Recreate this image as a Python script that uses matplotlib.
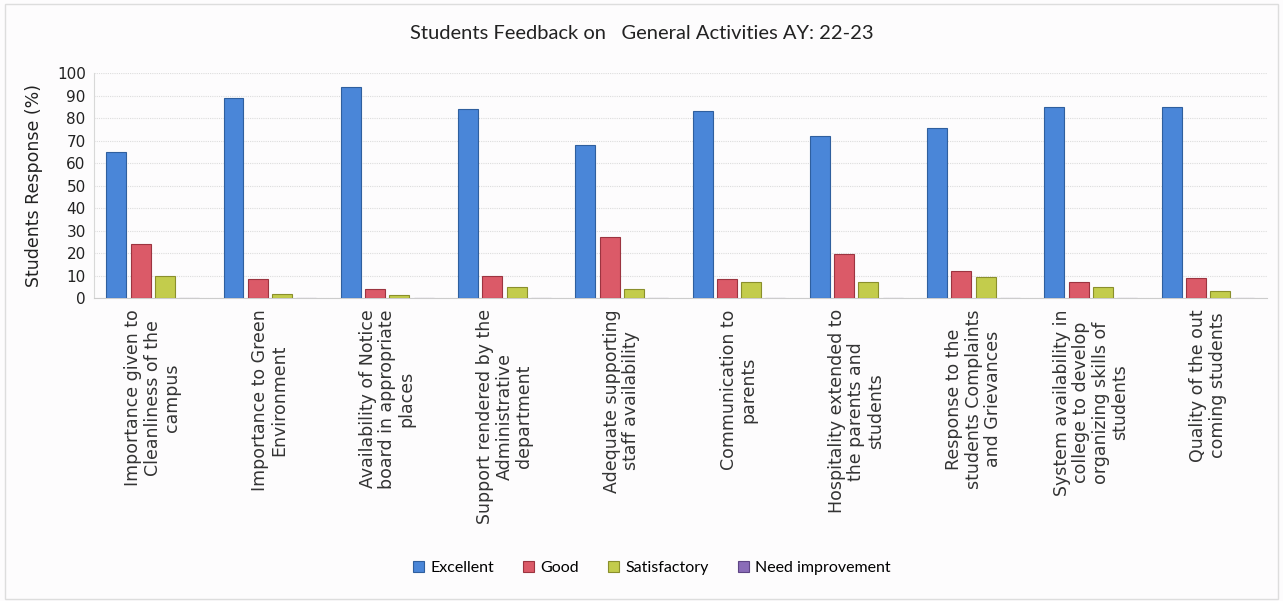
import matplotlib
matplotlib.use("Agg")
import matplotlib.pyplot as plt
import numpy as np

categories = [
    "Importance given to\nCleanliness of the\ncampus",
    "Importance to Green\nEnvironment",
    "Availability of Notice\nboard in appropriate\nplaces",
    "Support rendered by the\nAdministrative\ndepartment",
    "Adequate supporting\nstaff availability",
    "Communication to\nparents",
    "Hospitality extended to\nthe parents and\nstudents",
    "Response to the\nstudents Complaints\nand Grievances",
    "System availability in\ncollege to develop\norganizing skills of\nstudents",
    "Quality of the out\ncoming students",
]
excellent = [65, 89, 94, 84, 68, 83, 72, 75.5, 85, 85]
good = [24, 8.5, 4, 10, 27, 8.5, 19.5, 12, 7, 9]
satisfactory = [10, 2, 1.5, 5, 4, 7, 7, 9.5, 5, 3]
need_improvement = [0, 0, 0, 0, 0, 0, 0, 0, 0, 0]

series = [
    ("Excellent", excellent, "#4a86d8", "#2f5f9e"),
    ("Good", good, "#db5a68", "#9c3440"),
    ("Satisfactory", satisfactory, "#c3cc4c", "#8a8f2c"),
    ("Need improvement", need_improvement, "#8a6cb8", "#5e4585"),
]

fig = plt.figure(figsize=(12.83, 6.01), dpi=100)
fig.patch.set_facecolor("#fdfcfd")
ax = fig.add_axes([0.0733, 0.504, 0.914, 0.3745])
ax.set_facecolor("#fdfcfd")

x = np.arange(len(categories))
step = 0.207
width = 0.17
for k, (name, vals, col, edge) in enumerate(series):
    ax.bar(x + (k - 1.5) * step, vals, width, color=col, edgecolor=edge,
           linewidth=0.8, label=name, zorder=3)

ax.set_xlim(-0.5, len(categories) - 0.5)
ax.set_ylim(0, 100)
ax.set_yticks(range(0, 101, 10))
ax.tick_params(axis="y", length=0, labelsize=11, pad=6, labelcolor="#222222")
ax.tick_params(axis="x", length=0, pad=8)
ax.set_xticks(x)
ax.set_xticklabels(categories, rotation=90, ha="center", va="top",
                   fontsize=12.5, color="#333333", linespacing=1.1)
ax.yaxis.grid(True, color="#dddddd", linestyle=(0, (1, 1)), linewidth=0.8, zorder=0)
for s in ["top", "right"]:
    ax.spines[s].set_visible(False)
ax.spines["left"].set_color("#d8d8d8")
ax.spines["bottom"].set_color("#cccccc")

ax.set_ylabel("Students Response (%)", fontsize=12.5, color="#222222", labelpad=10)

fig.text(0.5, 0.945, "Students Feedback on   General Activities AY: 22-23",
         ha="center", va="center", fontsize=14.5, family="Lato", color="#222222")

fig.legend(loc="center", bbox_to_anchor=(0.508, 0.055), ncol=4, frameon=False,
           prop={"family": "Lato", "size": 11.5}, handlelength=0.7, handleheight=0.7,
           handletextpad=0.4, columnspacing=1.8)

fig.add_artist(plt.Rectangle((0.004, 0.004), 0.992, 0.99, transform=fig.transFigure,
                             fill=False, edgecolor="#dddddd", linewidth=1))

fig.savefig("out.png", dpi=100, facecolor=fig.get_facecolor())
